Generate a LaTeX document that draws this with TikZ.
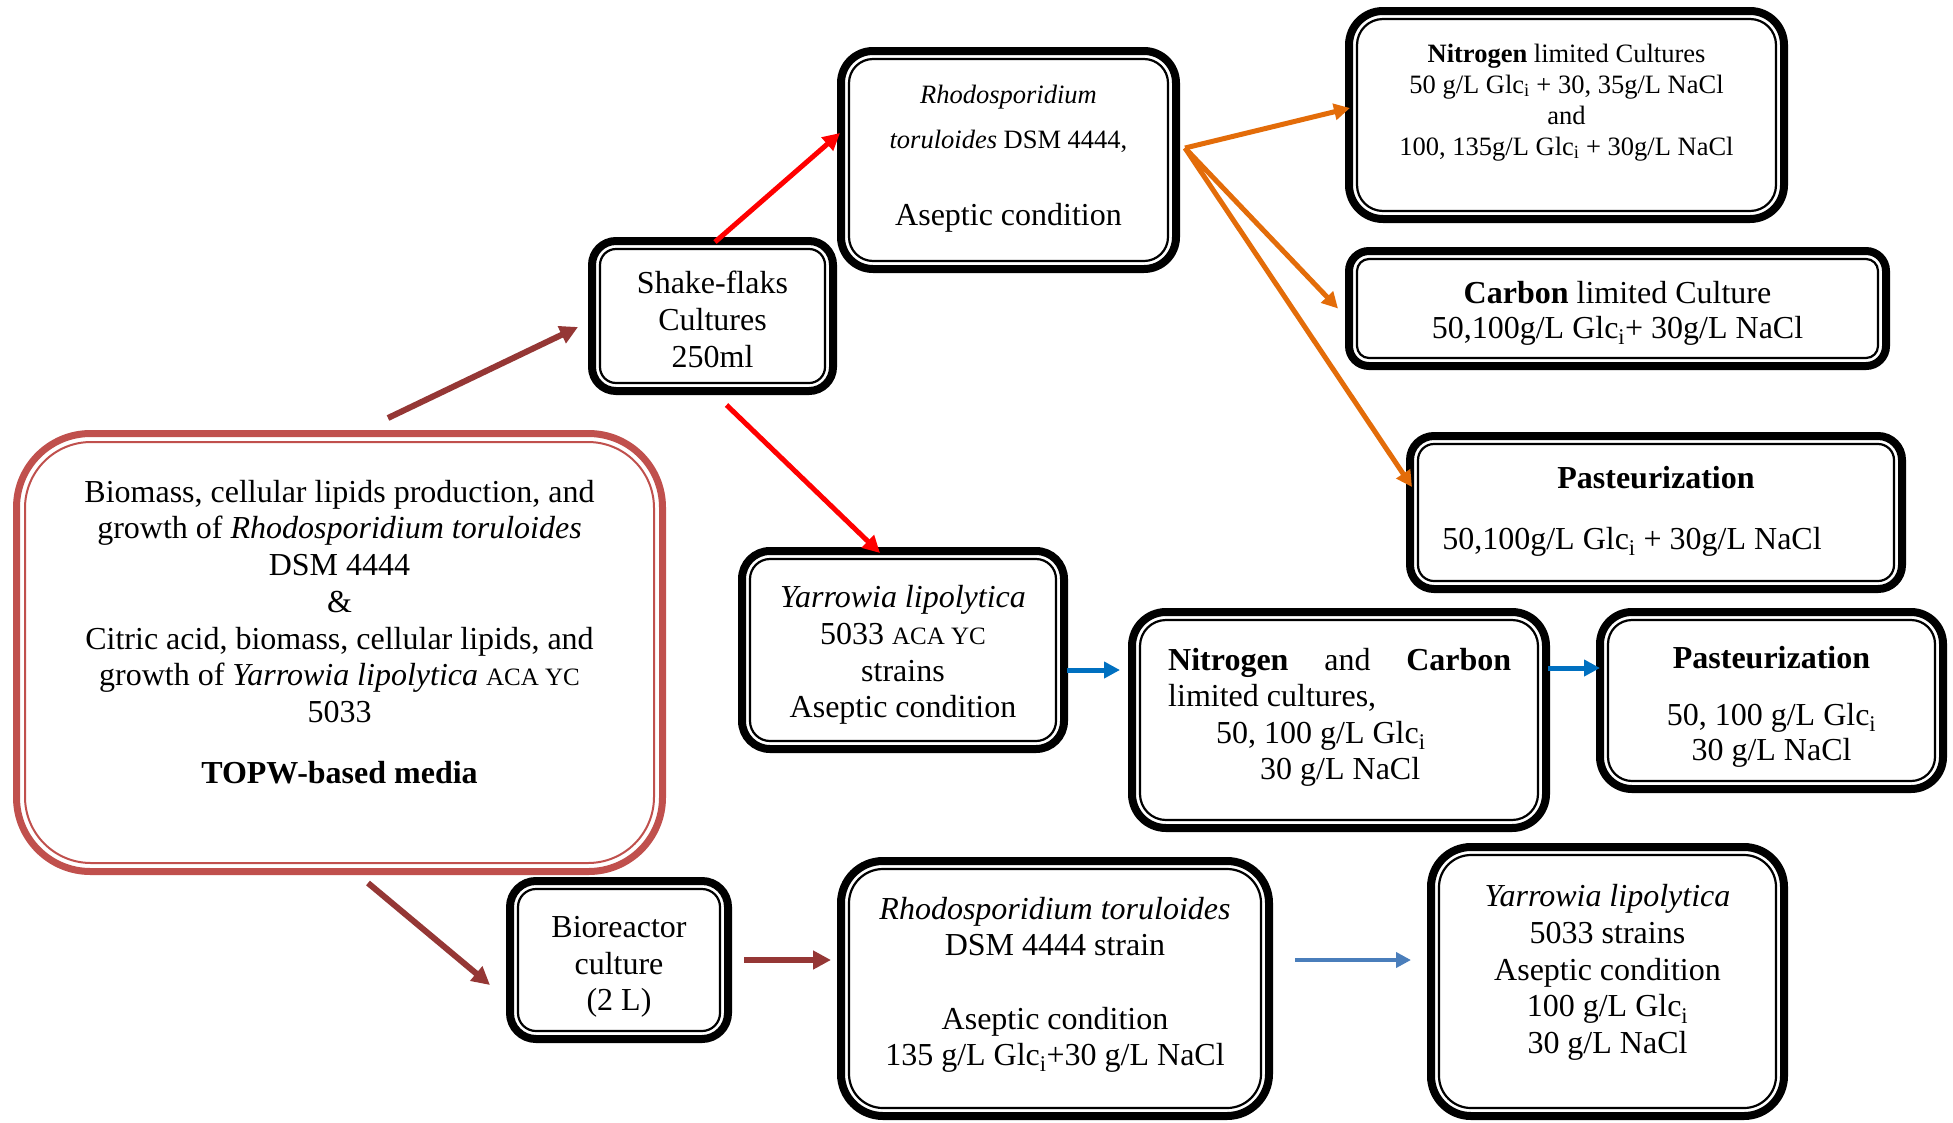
\documentclass[tikz,border=0pt]{standalone}
\usepackage{fontspec}
\setmainfont{Liberation Serif}
\usetikzlibrary{arrows.meta,calc}

\definecolor{boxred}{HTML}{C0504D}
\definecolor{darkred}{HTML}{953735}
\definecolor{orng}{HTML}{E36C09}
\definecolor{blu}{HTML}{0070C0}
\definecolor{lblu}{HTML}{4A7EBB}

% glucose with index subscript
\newcommand{\glci}{Glc\textsubscript{i}}
% strain label set a size smaller
\newcommand{\acayc}{{\fontsize{25pt}{30pt}\selectfont ACA YC}}
% invisible first-line strut: fixes the distance from the top of a text block to its first baseline
\newcommand{\firststrut}{\rule{0pt}{26pt}}

\begin{document}
\begin{tikzpicture}[x=1pt,y=-1pt,
  bx/.style={draw=black, line width=8pt, inner sep=0pt, outer sep=0pt, fill=white},
  redbx/.style={draw=boxred, line width=7pt, inner sep=0pt, outer sep=0pt, fill=white},
  innerline/.style={draw=black, line width=2.2pt},
  txt/.style={inner sep=0pt, align=center, anchor=north},
  arrDR/.style={draw=darkred, line width=6pt, -{Triangle[length=18pt,width=18pt]}},
  arrR/.style={draw=red, line width=5pt, -{Triangle[length=17pt,width=17pt]}},
  arrO/.style={draw=orng, line width=5pt, -{Triangle[length=16pt,width=16pt]}},
  arrB/.style={draw=blu, line width=5pt, -{Triangle[length=16pt,width=16pt]}},
  arrLB/.style={draw=lblu, line width=4pt, -{Triangle[length=15pt,width=15pt]}},
]
\fill[white] (0,0) rectangle (1953,1122);
\useasboundingbox (0,0) rectangle (1953,1122);

% ---- boxes (outer thick border) ----
\node[redbx, minimum width=646pt, minimum height=438pt, rounded corners=74pt] (A) at (339.5,652.5) {};
\node[bx, minimum width=241pt, minimum height=150pt, rounded corners=24pt] (B) at (712.5,316) {};
\node[bx, minimum width=335pt, minimum height=218pt, rounded corners=32pt] (C) at (1008.5,160) {};
\node[bx, minimum width=435pt, minimum height=208pt, rounded corners=34pt] (D) at (1566.5,115) {};
\node[bx, minimum width=537pt, minimum height=115pt, rounded corners=20pt] (E) at (1617.5,308.5) {};
\node[bx, minimum width=492pt, minimum height=153pt, rounded corners=24pt] (F) at (1656,512.5) {};
\node[bx, minimum width=322pt, minimum height=198pt, rounded corners=28pt] (G) at (903,650) {};
\node[bx, minimum width=414pt, minimum height=216pt, rounded corners=34pt] (H) at (1339,720) {};
\node[bx, minimum width=343pt, minimum height=177pt, rounded corners=32pt] (I) at (1771.5,700.5) {};
\node[bx, minimum width=218pt, minimum height=158pt, rounded corners=26pt] (J) at (619,960) {};
\node[bx, minimum width=428pt, minimum height=255pt, rounded corners=42pt] (K) at (1055,988.5) {};
\node[bx, minimum width=353pt, minimum height=269pt, rounded corners=40pt] (L) at (1607.5,981.5) {};

% thin inner lines of the double borders
\draw[line width=2pt, draw=boxred, rounded corners=66pt]
  ($(A.north west)+(8.5,8.5)$) rectangle ($(A.south east)+(-8.5,-8.5)$);
\foreach \bn/\rad in {B/16,C/24,D/26,E/12,F/16,G/20,H/26,I/24,J/18,K/34,L/32}{
  \draw[innerline, rounded corners=\rad pt]
    ($(\bn.north west)+(8,8)$) rectangle ($(\bn.south east)+(-8,-8)$);
}

% ---- texts ----
\node[txt, font=\fontsize{32pt}{36.7pt}\selectfont] (tA) at (339.5,476) {\firststrut
  Biomass, cellular lipids production, and\\
  growth of \textit{Rhodosporidium toruloides}\\
  DSM 4444\\
  \&\\
  Citric acid, biomass, cellular lipids, and\\
  growth of \textit{Yarrowia lipolytica} \acayc\\
  5033\\[24pt]
  \textbf{TOPW-based media}};

\node[txt, font=\fontsize{32pt}{37pt}\selectfont] (tB) at (712.5,267) {\firststrut
  Shake-flaks\\ Cultures\\ 250ml};

\node[txt, font=\fontsize{26.5pt}{45pt}\selectfont] (tC) at (1008.5,77) {\firststrut
  \textit{Rhodosporidium}\\
  \textit{toruloides} DSM 4444,\\[32pt]
  {\fontsize{32pt}{37pt}\selectfont Aseptic condition}};

\node[txt, font=\fontsize{26.5pt}{31pt}\selectfont] (tD) at (1566.5,36) {\firststrut
  \textbf{Nitrogen} limited Cultures\\
  50 g/L \glci{} + 30, 35g/L NaCl\\
  and\\
  100, 135g/L \glci{} + 30g/L NaCl};

\node[txt, font=\fontsize{32pt}{35pt}\selectfont] (tE) at (1617.5,277) {\firststrut
  \textbf{Carbon} limited Culture\\
  50,100g/L \glci{}+ 30g/L NaCl};

\node[txt, font=\fontsize{32pt}{35pt}\selectfont] (tF) at (1656,462) {\firststrut
  \textbf{Pasteurization}\\[26pt]
  50,100g/L \glci{} + 30g/L NaCl\hspace*{48pt}};

\node[txt, font=\fontsize{32pt}{36.7pt}\selectfont] (tG) at (903,581.5) {\firststrut
  \textit{Yarrowia lipolytica}\\
  5033 \acayc\\
  strains\\
  Aseptic condition};

\node[inner sep=0pt, align=left, anchor=north west, font=\fontsize{32pt}{36.5pt}\selectfont] (tH) at (1168,644) {\firststrut
  \makebox[343pt][s]{\textbf{Nitrogen} and \textbf{Carbon}}\\
  limited cultures,\\
  \hspace*{48pt}50, 100 g/L \glci\\
  \hspace*{92pt}30 g/L NaCl};

\node[txt, font=\fontsize{32pt}{35pt}\selectfont] (tI) at (1771.5,642) {\firststrut
  \textbf{Pasteurization}\\[22pt]
  50, 100 g/L \glci\\
  30 g/L NaCl};

\node[txt, font=\fontsize{32pt}{36.5pt}\selectfont] (tJ) at (619,911.5) {\firststrut
  Bioreactor\\ culture\\ (2 L)};

\node[txt, font=\fontsize{32pt}{36.5pt}\selectfont] (tK) at (1055,893) {\firststrut
  \textit{Rhodosporidium toruloides}\\
  DSM 4444 strain\\[37pt]
  Aseptic condition\\
  135 g/L \glci+30 g/L NaCl};

\node[txt, font=\fontsize{32pt}{36.75pt}\selectfont] (tL) at (1607.5,880.5) {\firststrut
  \textit{Yarrowia lipolytica}\\
  5033 strains\\
  Aseptic condition\\
  100 g/L \glci\\
  30 g/L NaCl};

% ---- connectors ----
\draw[arrDR] ($(A.north)+(48.5,-15.5)$) -- ($(B.west)+(-14,11)$);
\draw[arrR] ($(B.north)+(2.5,1)$) -- ($(C.west)+(-1,-27)$);
\draw[arrR] ($(B.south)+(14,14)$) -- ($(G.north)+(-23,2)$);

\coordinate (fork) at ($(C.east)+(9,-12)$);
\draw[arrO] (fork) -- ($(D.west)+(1,-7)$);
\draw[arrO] (fork) -- ($(E.west)+(-11,0)$);
\draw[arrO] (fork) -- ($(F.west)+(2,-25.5)$);

\draw[arrB] ($(G.east)+(3,20)$) -- ($(H.west)+(-12,-50)$);
\draw[arrB] ($(H.east)+(2,-52)$) -- ($(I.west)+(0,-32.5)$);

\draw[arrDR] ($(A.south)+(28.5,11.5)$) -- ($(J.west)+(-20,25)$);
\draw[arrDR] ($(J.east)+(16,0)$) -- ($(K.west)+(-10,-28.5)$);
\draw[arrLB] ($(K.east)+(26,-28.5)$) -- ($(L.west)+(-20,-21.5)$);
\end{tikzpicture}
\end{document}
